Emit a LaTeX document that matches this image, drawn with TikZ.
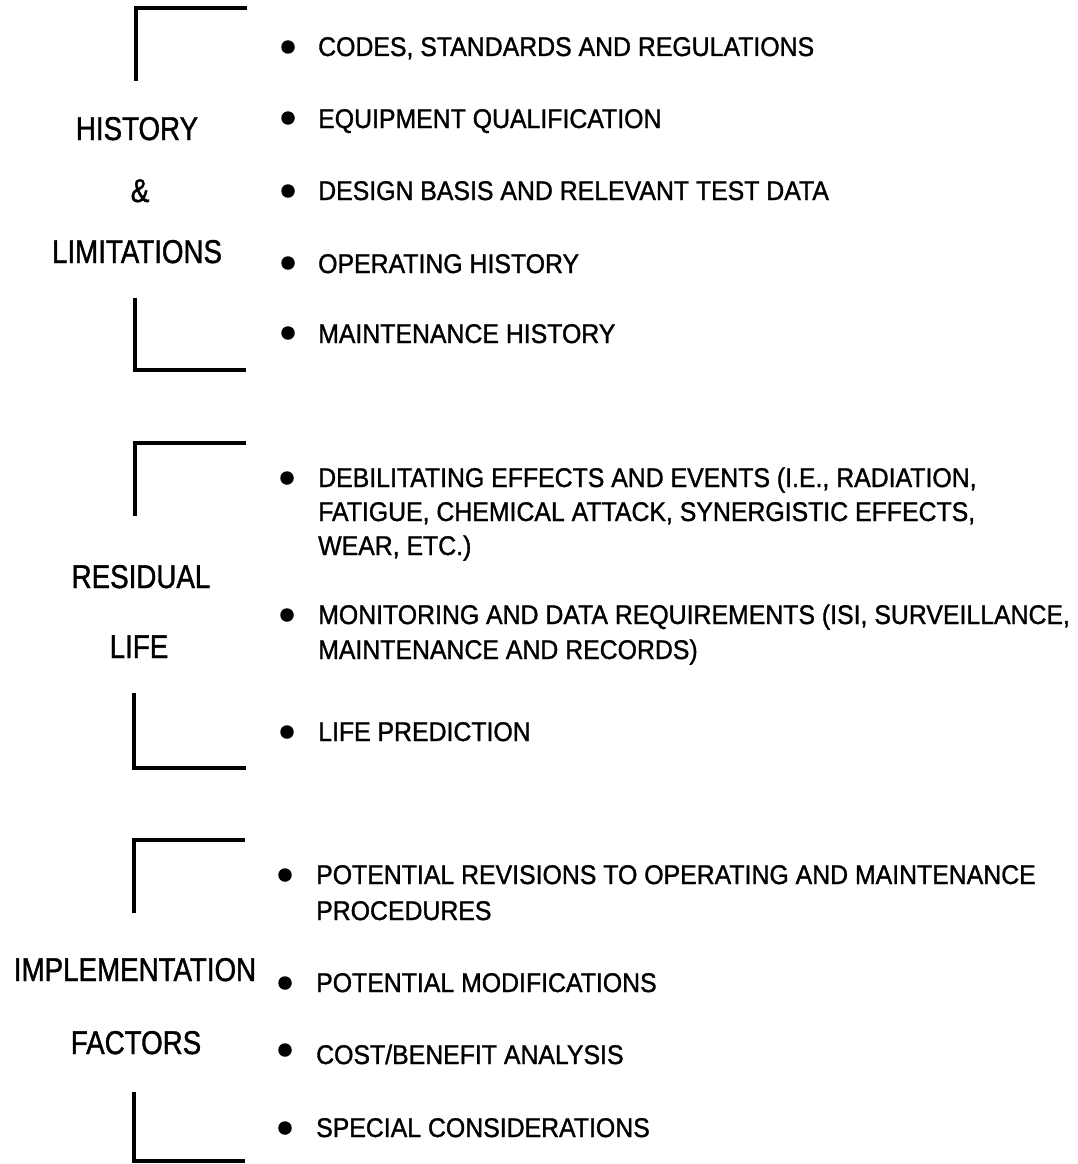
\documentclass[tikz,border=0pt]{standalone}
\usepackage{fontspec}
\newfontfamily\itemfont[FakeStretch=0.92,FakeBold=1.2]{Liberation Sans}
\newfontfamily\labfont[FakeStretch=0.84,FakeBold=1.2]{Liberation Sans}
\begin{document}
\begin{tikzpicture}[x=1pt,y=-1pt,
  brk/.style={line width=3.6pt},
  dot/.style={circle,fill=black,inner sep=0pt,minimum size=13.5pt},
  item/.style={anchor=base west,inner sep=0pt,font=\itemfont\fontsize{27}{31}\selectfont},
  lab/.style={anchor=base,inner sep=0pt,font=\labfont\fontsize{33}{38}\selectfont}]
\useasboundingbox (0,0) rectangle (1077,1164);

% ---------- Section 1 ----------
\coordinate (b1a) at (247,8);  \coordinate (b1b) at (136,8);  \coordinate (b1c) at (136,81);
\coordinate (b1d) at (135,298); \coordinate (b1e) at (135,370); \coordinate (b1f) at (246,370);
\draw[brk] (b1a) -- (b1b) -- (b1c);
\draw[brk] (b1d) -- (b1e) -- (b1f);

\node[lab] (hist) at (137,140) {HISTORY};
\node[lab] (amp) at (140,202) {\&};
\node[lab] (lim) at (137,263) {LIMITATIONS};

\node[dot] (d11) at (288,47) {};
\node[dot] (d12) at (288,118) {};
\node[dot] (d13) at (288,191) {};
\node[dot] (d14) at (288,263) {};
\node[dot] (d15) at (288,333) {};
\node[item] (t11) at (318,56) {CODES, STANDARDS AND REGULATIONS};
\node[item] (t12) at (318,128) {EQUIPMENT QUALIFICATION};
\node[item] (t13) at (318,200) {DESIGN BASIS AND RELEVANT TEST DATA};
\node[item] (t14) at (318,273) {OPERATING HISTORY};
\node[item] (t15) at (318,343) {MAINTENANCE HISTORY};

% ---------- Section 2 ----------
\coordinate (b2a) at (246,443); \coordinate (b2b) at (135,443); \coordinate (b2c) at (135,516);
\coordinate (b2d) at (134,693); \coordinate (b2e) at (134,768); \coordinate (b2f) at (246,768);
\draw[brk] (b2a) -- (b2b) -- (b2c);
\draw[brk] (b2d) -- (b2e) -- (b2f);

\node[lab] (res) at (141,588) {RESIDUAL};
\node[lab] (life) at (139,658) {LIFE};

\node[dot] (d21) at (287,478) {};
\node[dot] (d22) at (287,615) {};
\node[dot] (d23) at (287,732) {};
\node[item] (t21a) at (318,487) {DEBILITATING EFFECTS AND EVENTS (I.E., RADIATION,};
\node[item] (t21b) at (318,521) {FATIGUE, CHEMICAL ATTACK, SYNERGISTIC EFFECTS,};
\node[item] (t21c) at (318,555) {WEAR, ETC.)};
\node[item] (t22a) at (318,624) {MONITORING AND DATA REQUIREMENTS (ISI, SURVEILLANCE,};
\node[item] (t22b) at (318,659) {MAINTENANCE AND RECORDS)};
\node[item] (t23) at (318,741) {LIFE PREDICTION};

% ---------- Section 3 ----------
\coordinate (b3a) at (245,840); \coordinate (b3b) at (134,840); \coordinate (b3c) at (134,913);
\coordinate (b3d) at (134,1092); \coordinate (b3e) at (134,1161); \coordinate (b3f) at (245,1161);
\draw[brk] (b3a) -- (b3b) -- (b3c);
\draw[brk] (b3d) -- (b3e) -- (b3f);

\node[lab] (impl) at (135,981) {IMPLEMENTATION};
\node[lab] (fact) at (136,1054) {FACTORS};

\node[dot] (d31) at (285,875) {};
\node[dot] (d32) at (285,983) {};
\node[dot] (d33) at (285,1050) {};
\node[dot] (d34) at (285,1128) {};
\node[item] (t31a) at (316,884) {POTENTIAL REVISIONS TO OPERATING AND MAINTENANCE};
\node[item] (t31b) at (316,920) {PROCEDURES};
\node[item] (t32) at (316,992) {POTENTIAL MODIFICATIONS};
\node[item] (t33) at (316,1064) {COST/BENEFIT ANALYSIS};
\node[item] (t34) at (316,1137) {SPECIAL CONSIDERATIONS};
\end{tikzpicture}
\end{document}
